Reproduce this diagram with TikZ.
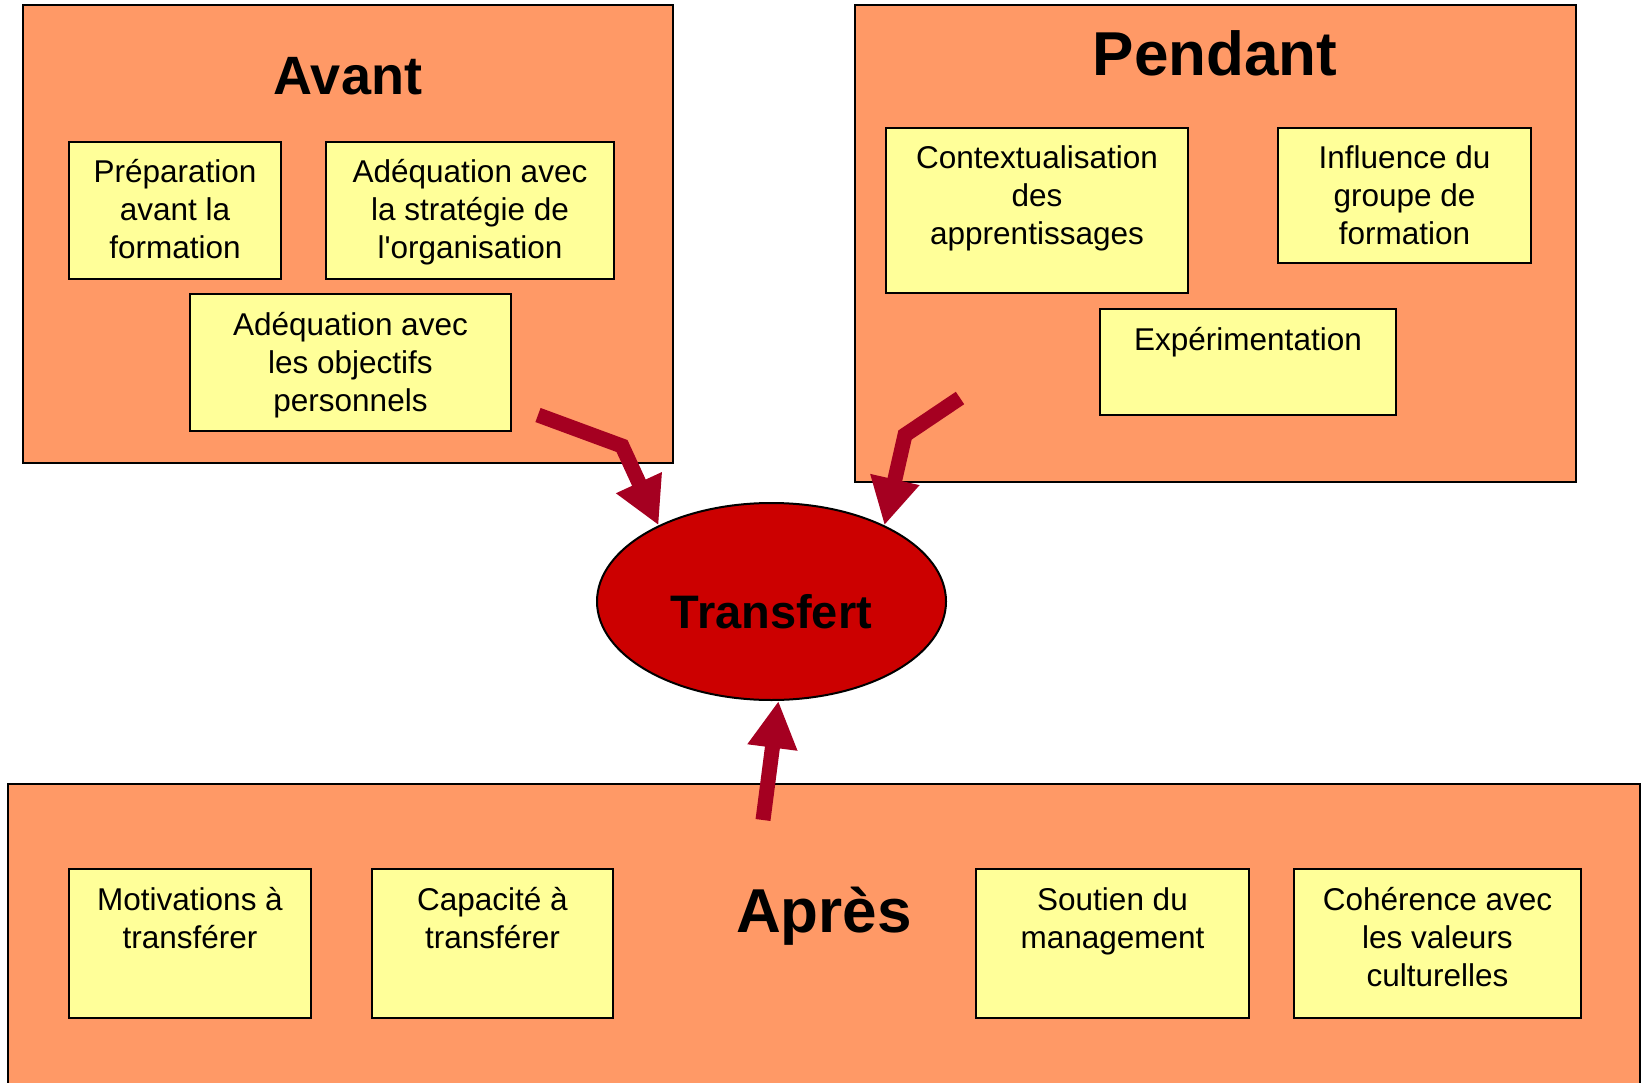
\documentclass[tikz,border=0pt]{standalone}
\usepackage{fontspec}
\setmainfont{Liberation Sans}[Ligatures=TeXOff]
\usetikzlibrary{positioning, arrows.meta, shapes.geometric}
\definecolor{saumon}{HTML}{FF9966}
\definecolor{jaune}{HTML}{FFFF99}
\definecolor{rouge}{HTML}{CC0000}
\definecolor{bordeaux}{HTML}{A50021}
% box of fixed size, text set from the top
\newcommand{\casetexte}[3]{\parbox[c][#2][t]{#1}{\centering\rule{0pt}{41pt}#3}}
\tikzset{
  phase/.style={draw, fill=saumon, line width=2pt},
  facteur/.style={draw, fill=jaune, line width=2pt, inner sep=0pt, anchor=north west,
    font=\fontsize{31.5pt}{38pt}\selectfont},
  titre/.style={anchor=base, font=\bfseries\fontsize{#1pt}{#1pt}\selectfont},
  titre/.default=62,
  fleche/.style={draw=bordeaux, line width=15pt, line join=miter,
    -{Triangle[width=47pt,length=47pt]}}
}

\begin{document}
\begin{tikzpicture}[x=1pt, y=-1pt]
    \useasboundingbox (0,0) rectangle (1643,1083);

    % the three phases
    \draw[phase] (23,5) rectangle (673,463);
    \draw[phase] (855,5) rectangle (1576,482);
    \draw[phase] (8,784) rectangle (1640,1095);

    \node[titre=54] (avant) at (348,95) {Avant};
    \node[titre] (pendant) at (1215,76) {Pendant};
    \node[titre] (apres) at (824,932) {Après};

    % avant
    \node[facteur] (preparation) at (68,141) {\casetexte{212pt}{137pt}{Préparation\\avant la\\formation}};
    \node[facteur] (strategie) at (325,141) {\casetexte{288pt}{137pt}{Adéquation avec\\la stratégie de\\l'organisation}};
    \node[facteur] (objectifs) at (189,293) {\casetexte{321pt}{137pt}{Adéquation avec\\les objectifs\\personnels}};

    % pendant
    \node[facteur] (contexte) at (885,127) {\casetexte{302pt}{165pt}{Contextualisation\\des\\apprentissages}};
    \node[facteur] (groupe) at (1277,127) {\casetexte{253pt}{135pt}{Influence du\\groupe de\\formation}};
    \node[facteur] (experimentation) at (1099,308) {\casetexte{296pt}{106pt}{Expérimentation}};

    % apres
    \node[facteur] (motivations) at (68,868) {\casetexte{242pt}{149pt}{Motivations à\\transférer}};
    \node[facteur] (capacite) at (371,868) {\casetexte{241pt}{149pt}{Capacité à\\transférer}};
    \node[facteur] (soutien) at (975,868) {\casetexte{273pt}{149pt}{Soutien du\\management}};
    \node[facteur] (coherence) at (1293,868) {\casetexte{287pt}{149pt}{Cohérence avec\\les valeurs\\culturelles}};

    % centre
    \node[ellipse, draw, fill=rouge, line width=2pt, minimum width=349pt, minimum height=197pt,
          inner sep=0pt, text height=53pt, text depth=0pt, titre=47, anchor=center]
          (transfert) at (771.5,601.5) {Transfert};

    \coordinate (departA) at (538,415);
    \coordinate (coudeA) at (622,446);
    \coordinate (departB) at (960,398);
    \coordinate (coudeB) at (905,435);
    \coordinate (departC) at (763,820);

    \draw[fleche] (departA) -- (coudeA) -- (transfert.146);
    \draw[fleche] (departB) -- (coudeB) -- (transfert.34);
    \draw[fleche] (departC) -- (transfert.274);

\end{tikzpicture}
\end{document}
